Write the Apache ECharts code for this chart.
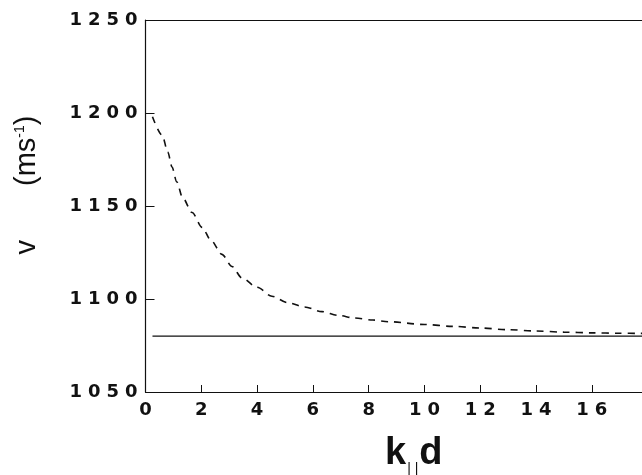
<!DOCTYPE html>
<html>
<head>
<meta charset="utf-8">
<script src="https://cdn.jsdelivr.net/npm/echarts@6/dist/echarts.min.js"></script>
<style>
  html, body { margin: 0; padding: 0; background: #fff; }
  #main { width: 642px; height: 475px; }
</style>
</head>
<body>
<div id="main"></div>
<script>
// dashed curve: v (m/s) against k||d
var kDashed = [0.25, 0.6, 0.8, 0.95, 1.12, 1.33, 1.67, 2.03, 2.34, 2.74, 3.1, 3.46, 4.0, 4.53, 5.1, 5.7, 6.33, 6.9, 7.5, 8.15, 8.7, 10, 11, 12, 13, 14, 15, 16, 17, 17.8];
var vDashed = [1198, 1188, 1179, 1171, 1163, 1154.5, 1146.5, 1138.5, 1131.7, 1124, 1117.5, 1111.3, 1106.3, 1101.5, 1098, 1095.7, 1093.2, 1091.2, 1089.8, 1088.7, 1087.8, 1086.3, 1085.3, 1084.4, 1083.5, 1082.8, 1082.2, 1081.8, 1081.6, 1081.5];
// solid flat line
var kSolid = [0.25, 17.8];
var vSolid = [1080, 1080];

var xTicks = [0, 2, 4, 6, 8, 10, 12, 14, 16];
var yTicks = [1050, 1100, 1150, 1200, 1250];

function pairs(xs, ys) {
    var out = [];
    for (var i = 0; i < xs.length; i++) {
        out.push([xs[i], ys[i]]);
    }
    return out;
}

// wide, spaced digits like the original typeface
function spaced(v, list) {
    if (list.indexOf(v) < 0) return '';
    return String(v).split('').map(function (c) { return '{d|' + c + '}'; }).join('');
}

var myChart = echarts.init(document.getElementById('main'));

var digitRich = {
    d: {
        color: '#111',
        fontFamily: 'DejaVu Sans',
        fontWeight: 'bold',
        fontSize: 18,
        padding: [0, 3, 0, 3]
    }
};

var option = {
    animation: false,
    backgroundColor: '#fff',
    grid: {
        left: 145.5,
        top: 20,
        right: 0,
        bottom: 83,
        outerBoundsMode: 'none'
    },
    xAxis: [{
        type: 'value',
        min: 0,
        max: 17.8,
        interval: 2,
        axisLine: { lineStyle: { color: '#111', width: 1.2 } },
        axisTick: { inside: true, length: 7, lineStyle: { color: '#111', width: 1 } },
        splitLine: { show: false },
        axisLabel: {
            margin: 9,
            showMaxLabel: false,
            formatter: function (v) { return spaced(v, xTicks); },
            rich: digitRich
        },
        name: '{b|k}{s|| |}{b|d}',
        nameLocation: 'middle',
        nameGap: 40,
        nameTextStyle: {
            padding: [0, 0, 0, 40],
            rich: {
                b: { fontFamily: 'Liberation Sans', fontWeight: 'bold', fontSize: 38, color: '#111' },
                s: { fontFamily: 'Liberation Sans', fontSize: 14, color: '#111', padding: [30, 1, 0, 1] }
            }
        }
    }, {
        // top frame line
        type: 'value',
        position: 'top',
        min: 0,
        max: 17.8,
        axisLine: { show: true, onZero: false, lineStyle: { color: '#111', width: 1.2 } },
        axisTick: { show: false },
        axisLabel: { show: false },
        splitLine: { show: false }
    }],
    yAxis: {
        type: 'value',
        min: 1050,
        max: 1250,
        interval: 50,
        axisLine: { lineStyle: { color: '#111', width: 1.2 } },
        axisTick: { inside: true, length: 9, lineStyle: { color: '#111', width: 1 } },
        splitLine: { show: false },
        axisLabel: {
            margin: 5,
            formatter: function (v) { return spaced(v, yTicks); },
            rich: digitRich
        },
        name: '{n|v}{g| }{n|(ms}{p|-1}{n|)}',
        nameLocation: 'middle',
        nameRotate: 90,
        nameGap: 104,
        nameTextStyle: {
            padding: [0, 0, 0, 42],
            rich: {
                n: { fontFamily: 'Liberation Sans', fontSize: 29, color: '#111' },
                g: { fontSize: 29, width: 54 },
                p: { fontFamily: 'Liberation Sans', fontSize: 14, color: '#111', padding: [0, 0, 14, 0] }
            }
        }
    },
    series: [
        {
            name: 'dashed',
            type: 'line',
            data: pairs(kDashed, vDashed),
            smooth: 0.3,
            smoothMonotone: 'x',
            showSymbol: false,
            lineStyle: { color: '#111', width: 1.6, type: [7, 6] }
        },
        {
            name: 'solid',
            type: 'line',
            data: pairs(kSolid, vSolid),
            showSymbol: false,
            lineStyle: { color: '#111', width: 1.3 }
        }
    ]
};

myChart.setOption(option);
</script>
</body>
</html>
